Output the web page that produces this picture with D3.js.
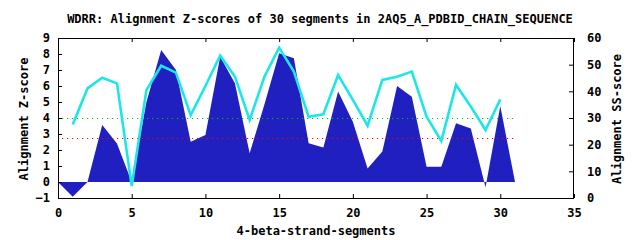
<!DOCTYPE html>
<html lang="en">

<head>
  <title>WDRR alignment Z-scores</title>
  <meta charset="UTF-8">
  <style>
    body {
      margin: 0;
      background: #fff;
    }

    text {
      font-family: "DejaVu Sans Mono", monospace;
      font-weight: bold;
      font-size: 12px;
    }
  </style>
</head>

<body>
  <div id="container"></div>
  <script src="https://cdn.jsdelivr.net/npm/d3@7"></script>
  <script>
    const titleText = 'WDRR: Alignment Z-scores of 30 segments in 2AQ5_A_PDBID_CHAIN_SEQUENCE';
    // segment positions for the filled Z-score curve
    const segments = [0, 1, 2, 3, 4, 5, 6, 7, 8, 9, 10, 11, 12, 13, 14, 15,
      16, 17, 18, 19, 20, 21, 22, 23, 24, 25, 26, 27, 28, 29, 30, 31];
    const zScores = [0, -0.92, 0, 3.56, 2.4, 0, 5.0, 8.25, 7.0, 2.52, 2.94, 7.83, 6.17, 1.79, 4.85, 8.04,
      7.73, 2.42, 2.15, 5.65, 3.77, 0.85, 1.9, 6.0, 5.33, 0.96, 0.96, 3.67, 3.35, -0.33, 4.75, 0];
    // SS-score line, segments 1..30 (right axis)
    const ssSegments = [1, 2, 3, 4, 5, 6, 7, 8, 9, 10, 11, 12, 13, 14, 15,
      16, 17, 18, 19, 20, 21, 22, 23, 24, 25, 26, 27, 28, 29, 30];
    const ssScores = [27.6, 41.1, 45.1, 43.0, 4.5, 40.5, 49.6, 47.0, 31.1, 42.0, 53.4, 45.5, 29.3, 45.5, 56.4,
      47.4, 30.5, 31.4, 46.1, 36.8, 27.1, 44.3, 45.5, 47.4, 30.5, 21.4, 42.4, 34.3, 25.5, 37.0];
    // dotted threshold lines (Z-score), drawn from segment 0 to 31
    const thresholds = [4.0, 2.72];
    const thresholdColors = ['#00c000', '#ff0000'];
    const thresholdSpan = [0, 31];

    const xTicks = [0, 5, 10, 15, 20, 25, 30, 35];
    const yTicks = [-1, 0, 1, 2, 3, 4, 5, 6, 7, 8, 9];
    const y2Ticks = [0, 10, 20, 30, 40, 50, 60];

    const width = 640, height = 240;
    const plot = { left: 58, right: 574, top: 38, bottom: 198 };

    const x = d3.scaleLinear().domain([0, 35]).range([plot.left, plot.right]);
    const y = d3.scaleLinear().domain([-1, 9]).range([plot.bottom, plot.top]);
    const y2 = d3.scaleLinear().domain([0, 60]).range([plot.bottom, plot.top]);

    const svg = d3.select('#container')
      .append('svg')
      .attr('width', width)
      .attr('height', height);

    // filled z-score curve
    const area = d3.area()
      .x((d, i) => x(segments[i]))
      .y0(y(0))
      .y1(d => y(d));
    svg.append('path')
      .datum(zScores)
      .attr('d', area)
      .attr('fill', '#2020c0');

    // dotted thresholds
    thresholds.forEach((t, i) => {
      svg.append('line')
        .attr('x1', x(thresholdSpan[0]) + 4)
        .attr('x2', x(thresholdSpan[1]))
        .attr('y1', Math.round(y(t)) + 0.5)
        .attr('y2', Math.round(y(t)) + 0.5)
        .attr('stroke', thresholdColors[i])
        .attr('stroke-width', 1.2)
        .attr('stroke-dasharray', '1.2,3.8');
    });

    // SS-score line
    const line = d3.line()
      .x((d, i) => x(ssSegments[i]))
      .y(d => y2(d));
    svg.append('path')
      .datum(ssScores)
      .attr('d', line)
      .attr('fill', 'none')
      .attr('stroke', '#1ee6e6')
      .attr('stroke-width', 2.6)
      .attr('stroke-linejoin', 'miter');

    // axes, ticks pointing inwards
    const gx = svg.append('g')
      .attr('transform', `translate(0,${plot.bottom})`)
      .call(d3.axisBottom(x).tickValues(xTicks).tickSize(-4).tickPadding(10));
    const gxTop = svg.append('g')
      .attr('transform', `translate(0,${plot.top})`)
      .call(d3.axisTop(x).tickValues(xTicks).tickSize(-4).tickFormat(''));
    const gy = svg.append('g')
      .attr('transform', `translate(${plot.left},0)`)
      .call(d3.axisLeft(y).tickValues(yTicks).tickSize(-4).tickPadding(8));
    const gy2 = svg.append('g')
      .attr('transform', `translate(${plot.right},0)`)
      .call(d3.axisRight(y2).tickValues(y2Ticks).tickSize(-5).tickPadding(13));

    [gx, gxTop, gy, gy2].forEach(g => {
      g.select('.domain').remove();
      g.selectAll('.tick line').attr('stroke', '#000');
      g.selectAll('text')
        .attr('fill', '#000')
        .style('font-family', '"DejaVu Sans Mono", monospace')
        .style('font-weight', 'bold')
        .style('font-size', '12px');
    });

    // frame
    svg.append('rect')
      .attr('x', plot.left + 0.5)
      .attr('y', plot.top + 0.5)
      .attr('width', plot.right - plot.left - 1)
      .attr('height', plot.bottom - plot.top)
      .attr('fill', 'none')
      .attr('stroke', '#000')
      .attr('stroke-width', 1);

    // title and axis labels
    svg.append('text')
      .attr('x', 320)
      .attr('y', 19)
      .attr('dy', '0.35em')
      .attr('text-anchor', 'middle')
      .text(titleText);

    svg.append('text')
      .attr('x', (plot.left + plot.right) / 2)
      .attr('y', 231)
      .attr('dy', '0.35em')
      .attr('text-anchor', 'middle')
      .text('4-beta-strand-segments');

    svg.append('text')
      .attr('transform', 'translate(24,119) rotate(-90)')
      .attr('dy', '0.35em')
      .attr('text-anchor', 'middle')
      .text('Alignment Z-score');

    svg.append('text')
      .attr('transform', 'translate(617,119) rotate(-90)')
      .attr('dy', '0.35em')
      .attr('text-anchor', 'middle')
      .text('Alignment SS-score');
  </script>
</body>

</html>
